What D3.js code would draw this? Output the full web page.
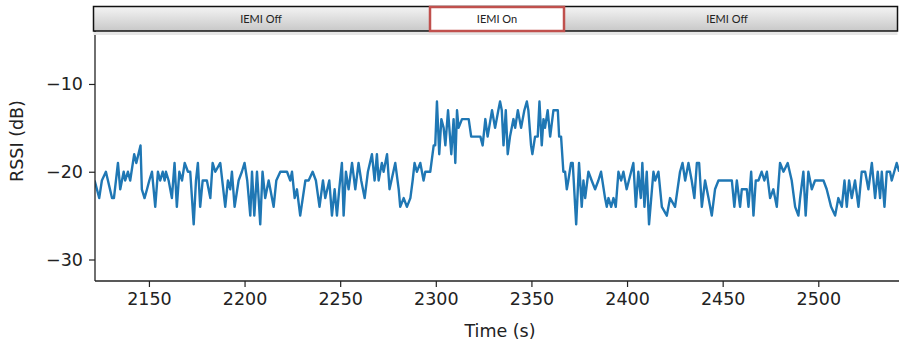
<!DOCTYPE html>
<html>
<head>
<meta charset="utf-8">
<script src="https://cdn.jsdelivr.net/npm/d3@7"></script>
<style>
  html, body { margin: 0; padding: 0; background: #fff; }
  svg { display: block; }
</style>
</head>
<body>
<svg id="chart" width="899" height="347"></svg>
<script>
// ---- data ----
const times = [
  2121.6, 2124.0, 2125.4, 2127.5, 2130.7, 2131.7, 2133.8, 2135.0, 2136.8, 2137.6,
  2139.0, 2140.2, 2142.3, 2143.4, 2145.6, 2146.3, 2147.7, 2149.0, 2150.2, 2151.6,
  2153.3, 2154.7, 2155.9, 2157.2, 2158.2, 2158.9, 2160.3, 2162.0, 2163.4, 2164.6,
  2165.9, 2167.3, 2168.7, 2170.4, 2171.6, 2173.4, 2174.6, 2175.6, 2176.8, 2178.1,
  2180.3, 2182.1, 2183.3, 2184.7, 2187.3, 2189.9, 2191.3, 2192.5, 2193.4, 2194.8,
  2196.9, 2198.6, 2200.0, 2201.4, 2203.0, 2203.9, 2205.1, 2206.5, 2208.2, 2209.4,
  2210.8, 2212.6, 2215.2, 2216.6, 2218.7, 2222.2, 2223.9, 2224.8, 2226.2, 2227.4,
  2229.1, 2231.8, 2233.5, 2235.6, 2237.3, 2239.2, 2241.0, 2242.2, 2244.3, 2245.7,
  2247.1, 2248.3, 2249.5, 2250.9, 2251.8, 2253.0, 2254.4, 2256.2, 2257.9, 2259.6,
  2261.0, 2262.8, 2264.5, 2266.6, 2268.0, 2269.2, 2270.1, 2271.8, 2272.7, 2274.5,
  2275.8, 2278.8, 2280.6, 2281.4, 2283.2, 2284.9, 2286.7, 2287.9, 2288.9, 2290.1,
  2291.9, 2293.6, 2294.5, 2297.1, 2298.9, 2299.7, 2300.6, 2301.8, 2302.9, 2304.1,
  2305.0, 2306.4, 2308.1, 2309.3, 2310.2, 2311.1, 2311.9, 2313.7, 2317.2, 2318.5,
  2323.3, 2324.5, 2325.9, 2327.1, 2329.4,
  2331.0, 2332.7, 2333.6, 2334.5, 2335.4, 2336.6, 2337.6, 2338.8, 2340.6, 2341.5,
  2342.9, 2344.6, 2346.3, 2347.6, 2348.4, 2349.8, 2350.5, 2351.9, 2353.3, 2354.2,
  2355.4, 2356.3, 2357.1, 2358.5, 2359.8, 2361.5, 2363.8, 2364.5, 2365.5, 2366.7,
  2367.6, 2368.5, 2369.3, 2370.7, 2371.6, 2373.4, 2374.9, 2376.3, 2377.2, 2378.1,
  2379.8, 2381.5, 2383.3, 2385.0, 2386.4, 2388.5, 2389.4, 2390.3, 2391.7, 2392.9,
  2394.1, 2395.5, 2396.9, 2398.1, 2399.8, 2403.3, 2404.6, 2405.9, 2407.2, 2408.0,
  2409.1, 2410.3, 2411.5, 2413.8, 2414.7, 2416.4, 2418.2, 2420.8, 2422.5, 2425.1,
  2427.7, 2429.0, 2430.4, 2432.1, 2433.8, 2435.2, 2436.5, 2437.7, 2439.1, 2440.8,
  2442.6, 2444.3, 2446.0, 2447.8, 2454.8, 2456.1, 2457.4, 2459.1, 2460.0, 2462.6,
  2463.5, 2464.9, 2466.1, 2467.3, 2468.7, 2470.4, 2471.8, 2473.1, 2474.8, 2476.5,
  2478.3, 2480.0, 2481.8, 2484.0, 2486.1, 2487.9, 2489.6, 2490.5, 2492.2, 2493.4,
  2494.8, 2496.6, 2498.3, 2502.7, 2504.4, 2506.7, 2508.8, 2510.5, 2512.3, 2513.7,
  2514.9, 2516.1, 2517.5, 2519.2, 2521.0, 2522.7, 2524.5, 2526.2, 2528.0, 2529.7,
  2531.1, 2532.3, 2533.2, 2534.6, 2535.8, 2537.5, 2538.4, 2541.0, 2542.3
];
const rssi = [
  -21, -23, -21, -20, -23, -23, -19, -22, -20, -21,
  -20, -21, -18, -19, -17, -22, -23, -22, -21, -20,
  -24, -20, -21, -20, -21, -20, -21, -23, -19, -24,
  -20, -21, -19, -20, -20, -26, -21, -19, -24, -21,
  -21, -23, -19, -20, -19, -24, -21, -22, -20, -24,
  -21, -20, -19, -21, -25, -20, -25, -20, -26, -20,
  -23, -21, -24, -21, -20, -20, -21, -20, -23, -22,
  -25, -21, -21, -20, -21, -24, -21, -23, -21, -25,
  -22, -25, -22, -19, -25, -20, -22, -19, -22, -19,
  -21, -23, -20, -18, -21, -18, -21, -19, -20, -18,
  -22, -19, -22, -24, -23, -24, -23, -21, -19, -20,
  -19, -21, -20, -20, -17, -17, -12, -18, -14, -15,
  -17, -13, -18, -14, -19, -13, -15, -14, -14, -16,
  -16, -17, -14, -16, -13,
  -15, -13, -12, -13, -17, -13, -18, -16, -14, -15,
  -13, -15, -13, -12, -13, -17, -18, -16, -16, -12,
  -17, -14, -15, -13, -16, -13, -13, -16, -16, -20,
  -20, -22, -21, -19, -19, -26, -19, -24, -21, -23,
  -20, -21, -22, -21, -20, -23, -24, -23, -24, -23,
  -24, -20, -21, -20, -22, -19, -24, -20, -23, -19,
  -24, -20, -26, -20, -21, -20, -24, -25, -23, -24,
  -20, -19, -21, -19, -21, -23, -19, -19, -24, -21,
  -23, -25, -22, -21, -21, -24, -21, -24, -22, -22,
  -24, -20, -25, -21, -21, -20, -21, -20, -23, -22,
  -24, -19, -20, -19, -21, -24, -25, -23, -20, -25,
  -20, -22, -21, -21, -22, -24, -25, -23, -24, -21,
  -24, -21, -23, -21, -24, -20, -20, -22, -19, -23,
  -20, -23, -20, -24, -20, -20, -21, -19, -20
];
const xTicks = [2150, 2200, 2250, 2300, 2350, 2400, 2450, 2500];
const yTicks = [-30, -20, -10];
const phaseLabels = ["IEMI Off", "IEMI On", "IEMI Off"];
const xLabel = "Time (s)";
const yLabel = "RSSI (dB)";

// ---- layout ----
const svg = d3.select("#chart");
const pLeft = 95, pRight = 899, pTop = 30, pBottom = 281;

const x = d3.scaleLinear().domain([2121.8, 2542.2]).range([pLeft, pRight]);
const y = d3.scaleLinear().domain([-32.45, -3.85]).range([pBottom, pTop]);

const data = times.map((t, i) => ({ t, v: rssi[i] }));

const defs = svg.append("defs");
defs.append("clipPath").attr("id", "clip")
  .append("rect").attr("x", pLeft).attr("y", pTop).attr("width", pRight - pLeft).attr("height", pBottom - pTop);

// line
svg.append("path")
  .datum(data)
  .attr("clip-path", "url(#clip)")
  .attr("fill", "none")
  .attr("stroke", "#1f77b4")
  .attr("stroke-width", 2.4)
  .attr("stroke-linejoin", "round")
  .attr("d", d3.line().x(d => x(d.t)).y(d => y(d.v)));

// axes
const fontFam = "'DejaVu Sans', sans-serif";
const xAxis = svg.append("g")
  .attr("transform", `translate(0,${pBottom})`)
  .call(d3.axisBottom(x).tickValues(xTicks).tickSize(6).tickPadding(6).tickFormat(d3.format("d")));
const yAxis = svg.append("g")
  .attr("transform", `translate(${pLeft},0)`)
  .call(d3.axisLeft(y).tickValues(yTicks).tickSize(6).tickPadding(6).tickFormat(d => "\u2212" + Math.abs(d)));

[xAxis, yAxis].forEach(g => {
  g.select(".domain").remove();
  g.selectAll(".tick line").attr("stroke", "#222").attr("stroke-width", 1.2);
  g.selectAll(".tick text").attr("fill", "#222").style("font-family", fontFam).style("font-size", "17.5px");
});

// spines
svg.append("line").attr("x1", pLeft).attr("x2", pLeft).attr("y1", pTop).attr("y2", pBottom)
  .attr("stroke", "#222").attr("stroke-width", 1.3);
svg.append("line").attr("x1", pLeft).attr("x2", pRight).attr("y1", pBottom).attr("y2", pBottom)
  .attr("stroke", "#222").attr("stroke-width", 1.3);

// axis labels
svg.append("text").attr("x", 500).attr("y", 337).attr("text-anchor", "middle")
  .style("font-family", fontFam).style("font-size", "17.5px").attr("fill", "#222").text(xLabel);
svg.append("text").attr("transform", "translate(23,141) rotate(-90)").attr("text-anchor", "middle")
  .style("font-family", fontFam).style("font-size", "17.5px").attr("fill", "#222").text(yLabel);

// banner
const grad = defs.append("linearGradient").attr("id", "bannerGrad").attr("x1", 0).attr("x2", 0).attr("y1", 0).attr("y2", 1);
grad.append("stop").attr("offset", "0%").attr("stop-color", "#f4f4f4");
grad.append("stop").attr("offset", "100%").attr("stop-color", "#c8c8c8");

svg.append("rect").attr("x", 93.5).attr("y", 32).attr("width", 804).attr("height", 3)
  .attr("fill", "#e6e6e6");
svg.append("rect").attr("x", 93.5).attr("y", 6.5).attr("width", 804).attr("height", 24.5)
  .attr("fill", "url(#bannerGrad)").attr("stroke", "#111").attr("stroke-width", 1.5);
svg.append("rect").attr("x", 430).attr("y", 7).attr("width", 134).attr("height", 24)
  .attr("fill", "#fff").attr("stroke", "#c0504d").attr("stroke-width", 2.5);

const labelX = [261, 497, 727];
phaseLabels.forEach((s, i) => {
  svg.append("text").attr("x", labelX[i]).attr("y", 23).attr("text-anchor", "middle")
    .style("font-family", "Lato, 'Open Sans', sans-serif").style("font-size", "11px").attr("fill", "#222").text(s);
});
</script>
</body>
</html>
